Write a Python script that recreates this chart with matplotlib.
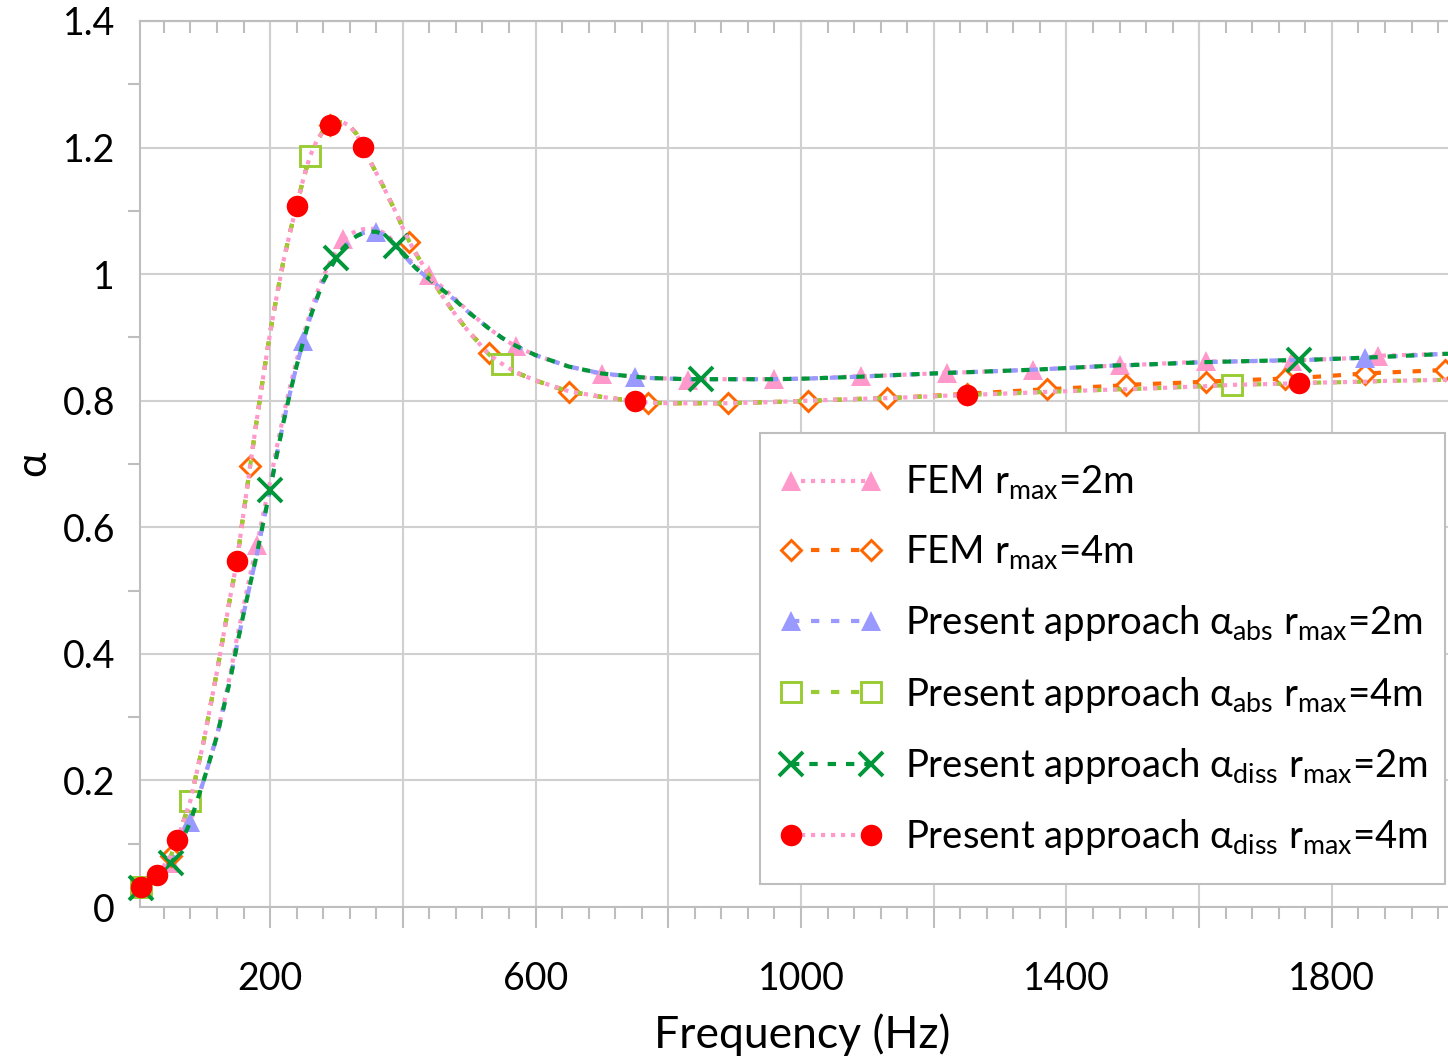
import matplotlib
matplotlib.use("Agg")
import matplotlib.pyplot as plt
from matplotlib.lines import Line2D
from matplotlib.patches import Rectangle
from matplotlib.ticker import MultipleLocator, FuncFormatter

# ---------------- data ----------------
freq = [5, 30, 50, 60, 80, 100, 120, 140, 150, 160, 170, 180, 190, 200, 210,
        220, 230, 240, 250, 260, 270, 280, 290, 300, 310, 320, 330, 340, 350,
        360, 370, 380, 390, 400, 410, 420, 440, 460, 480, 500, 530, 550, 570,
        600, 650, 700, 750, 770, 800, 830, 850, 890, 960, 1010, 1090, 1130,
        1220, 1250, 1350, 1370, 1480, 1490, 1610, 1650, 1730, 1740, 1750, 1850,
        1870, 1970, 2000]

present_2m = [0.030, 0.045, 0.070, 0.088, 0.135, 0.200, 0.270, 0.360, 0.413, 0.463,
              0.510, 0.557, 0.609, 0.659, 0.714, 0.765, 0.812, 0.855, 0.894, 0.930,
              0.960, 0.988, 1.008, 1.026, 1.041, 1.052, 1.060, 1.065, 1.067, 1.067,
              1.063, 1.055, 1.044, 1.032, 1.020, 1.009, 0.992, 0.975, 0.958, 0.939,
              0.914, 0.899, 0.887, 0.872, 0.854, 0.843, 0.838, 0.836, 0.835, 0.834,
              0.834, 0.834, 0.834, 0.835, 0.838, 0.840, 0.844, 0.845, 0.849, 0.850,
              0.856, 0.856, 0.861, 0.862, 0.864, 0.864, 0.864, 0.868, 0.869, 0.874,
              0.875]

fem_2m = [0.030, 0.045, 0.070, 0.088, 0.135, 0.200, 0.272, 0.368, 0.425, 0.475,
          0.525, 0.572, 0.622, 0.672, 0.726, 0.776, 0.822, 0.864, 0.902, 0.938,
          0.968, 0.996, 1.018, 1.038, 1.055, 1.063, 1.068, 1.071, 1.072, 1.071,
          1.066, 1.058, 1.047, 1.035, 1.023, 1.012, 0.998, 0.979, 0.960, 0.940,
          0.914, 0.899, 0.886, 0.872, 0.854, 0.842, 0.838, 0.836, 0.835, 0.833,
          0.834, 0.834, 0.834, 0.835, 0.839, 0.840, 0.844, 0.845, 0.849, 0.850,
          0.856, 0.856, 0.862, 0.862, 0.863, 0.863, 0.864, 0.868, 0.871, 0.874,
          0.875]

present_4m = [0.032, 0.050, 0.080, 0.106, 0.168, 0.262, 0.372, 0.490, 0.546, 0.622,
              0.697, 0.770, 0.840, 0.907, 0.965, 1.020, 1.066, 1.108, 1.150, 1.186,
              1.210, 1.226, 1.235, 1.240, 1.240, 1.234, 1.222, 1.201, 1.180, 1.160,
              1.140, 1.118, 1.097, 1.073, 1.051, 1.032, 0.998, 0.965, 0.935, 0.908,
              0.873, 0.858, 0.845, 0.832, 0.815, 0.806, 0.799, 0.797, 0.796, 0.796,
              0.796, 0.796, 0.798, 0.800, 0.803, 0.804, 0.808, 0.809, 0.813, 0.814,
              0.818, 0.818, 0.823, 0.825, 0.827, 0.827, 0.828, 0.830, 0.831, 0.833,
              0.834]

fem_4m = [0.032, 0.050, 0.080, 0.106, 0.168, 0.262, 0.372, 0.490, 0.546, 0.622,
          0.697, 0.770, 0.840, 0.907, 0.965, 1.020, 1.066, 1.108, 1.150, 1.186,
          1.210, 1.226, 1.235, 1.240, 1.240, 1.234, 1.222, 1.201, 1.180, 1.160,
          1.140, 1.118, 1.097, 1.073, 1.051, 1.032, 0.998, 0.965, 0.935, 0.908,
          0.876, 0.858, 0.845, 0.832, 0.814, 0.806, 0.799, 0.797, 0.796, 0.796,
          0.796, 0.796, 0.798, 0.7995, 0.803, 0.804, 0.809, 0.811, 0.817, 0.818,
          0.824, 0.825, 0.830, 0.832, 0.835, 0.836, 0.836, 0.843, 0.844, 0.8485,
          0.850]

# frequencies at which each series shows a marker
marks_fem_2m = [50, 180, 310, 440, 570, 700, 830, 960, 1090, 1220, 1350, 1480, 1610, 1740, 1870]
marks_fem_4m = [50, 170, 290, 410, 530, 650, 770, 890, 1010, 1130, 1250, 1370, 1490, 1610, 1730, 1850, 1970]
marks_abs_2m = [5, 80, 250, 360, 750, 1850]
marks_abs_4m = [5, 80, 260, 550, 1650]
marks_diss_2m = [5, 50, 200, 300, 390, 850, 1750]
marks_diss_4m = [5, 30, 60, 150, 240, 290, 340, 750, 1250, 1750]

labels = [
    r"FEM r$_{\mathregular{max}}$=2m",
    r"FEM r$_{\mathregular{max}}$=4m",
    r"Present approach α$_{\mathregular{abs}}$ r$_{\mathregular{max}}$=2m",
    r"Present approach α$_{\mathregular{abs}}$ r$_{\mathregular{max}}$=4m",
    r"Present approach α$_{\mathregular{diss}}$ r$_{\mathregular{max}}$=2m",
    r"Present approach α$_{\mathregular{diss}}$ r$_{\mathregular{max}}$=4m",
]
x_ticklabels = ["200", "600", "1000", "1400", "1800"]

# ---------------- style ----------------
plt.rcParams["font.family"] = ["Lato", "DejaVu Sans"]
W, H = 1448, 1059
PINK = "#FF99CC"
ORANGE = "#FF6600"
LAV = "#9999FF"
YGREEN = "#99CC33"
GREEN = "#00963A"
RED = "#FF0000"
GRID = "#D0D0D0"
AXC = "#BEBEBE"

fig = plt.figure(figsize=(W / 100, H / 100), dpi=100)
ax = fig.add_axes([140 / W, 1 - 907 / H, (W - 140) / W, (907 - 21) / H])
ax.set_xlim(4, 1975)
ax.set_ylim(0, 1.4)

LW = 3.0
styles = [
    dict(values=fem_2m, marks=marks_fem_2m, color=PINK, dashes=(1.0, 1.4), marker="^",
         ms=15, mfc=PINK, mec=PINK, mew=0),
    dict(values=fem_4m, marks=marks_fem_4m, color=ORANGE, dashes=(2, 2.8), marker="D",
         ms=10.5, mfc="white", mec=ORANGE, mew=2.1),
    dict(values=present_2m, marks=marks_abs_2m, color=LAV, dashes=(2, 2.8), marker="^",
         ms=15, mfc=LAV, mec=LAV, mew=0),
    dict(values=present_4m, marks=marks_abs_4m, color=YGREEN, dashes=(2, 2.8), marker="s",
         ms=15, mfc="white", mec=YGREEN, mew=2.1),
    dict(values=present_2m, marks=marks_diss_2m, color=GREEN, dashes=(2, 2.4), marker="x",
         ms=17, mfc=GREEN, mec=GREEN, mew=2.8),
    dict(values=present_4m, marks=marks_diss_4m, color=PINK, dashes=(1.0, 1.4), marker="o",
         ms=15.5, mfc=RED, mec=RED, mew=0),
]

handles = []
for i, st in enumerate(styles):
    idx = [freq.index(f) for f in st["marks"]]
    ax.plot(freq, st["values"], color=st["color"], lw=LW, dashes=st["dashes"],
            marker=st["marker"], markevery=idx, ms=st["ms"], mfc=st["mfc"],
            mec=st["mec"], mew=st["mew"], clip_on=False, zorder=3 + i)
    handles.append(Line2D([], [], color=st["color"], lw=LW, dashes=st["dashes"],
                          marker=st["marker"], ms=st["ms"], mfc=st["mfc"],
                          mec=st["mec"], mew=st["mew"]))

# grid & ticks
ax.set_axisbelow(True)
ax.xaxis.set_major_locator(MultipleLocator(200))
ax.xaxis.set_minor_locator(MultipleLocator(40))
ax.yaxis.set_major_locator(MultipleLocator(0.2))
ax.yaxis.set_minor_locator(MultipleLocator(0.1))
ax.grid(which="major", color=GRID, lw=1.5)


def xfmt(v, pos):
    s = str(int(round(v)))
    return s if s in x_ticklabels else ""


ax.xaxis.set_major_formatter(FuncFormatter(xfmt))
ax.yaxis.set_major_formatter(FuncFormatter(lambda v, p: "%g" % round(v, 2)))

ax.tick_params(axis="x", which="major", direction="out", length=15, width=1.5,
               color=AXC, labelsize=27, pad=24)
ax.tick_params(axis="x", which="minor", direction="out", length=8.6, width=1.5, color=AXC)
ax.tick_params(axis="y", which="major", length=0, labelsize=27, pad=18)
ax.tick_params(axis="y", which="minor", direction="out", length=8.6, width=1.5, color=AXC)

for s in ["left", "bottom", "top"]:
    ax.spines[s].set_color(AXC)
    ax.spines[s].set_linewidth(1.5)
ax.spines["right"].set_visible(False)

sec = ax.secondary_xaxis("top")
sec.xaxis.set_major_locator(MultipleLocator(200))
sec.xaxis.set_minor_locator(MultipleLocator(40))
sec.tick_params(axis="x", which="major", direction="in", length=15.5, width=1.5,
                color=AXC, labeltop=False)
sec.tick_params(axis="x", which="minor", direction="in", length=8.6, width=1.5, color=AXC)
sec.spines["top"].set_color(AXC)
sec.spines["top"].set_linewidth(1.5)

fig.text(802 / W, 1 - 1048 / H, "Frequency (Hz)", ha="center", va="baseline", fontsize=32)
fig.text(33 / W, 1 - 463 / H, "α", ha="center", va="center", rotation=90, fontsize=31)

# legend frame drawn separately so that the padding matches the reference
frame = Rectangle((760 / W, 1 - 884 / H), (1445 - 760) / W, (884 - 433) / H,
                  transform=fig.transFigure, facecolor="white", edgecolor=AXC,
                  lw=1.5, zorder=4)
fig.patches.append(frame)

leg = fig.legend(handles, labels, loc="upper left", bbox_to_anchor=(760 / W, 1 - 445 / H),
                 bbox_transform=fig.transFigure, numpoints=2, handlelength=2.7,
                 handletextpad=0.6, borderpad=0.5, labelspacing=0.82, frameon=False,
                 fontsize=27.5, borderaxespad=0)
leg.set_zorder(6)

fig.savefig("out.png", dpi=100)
